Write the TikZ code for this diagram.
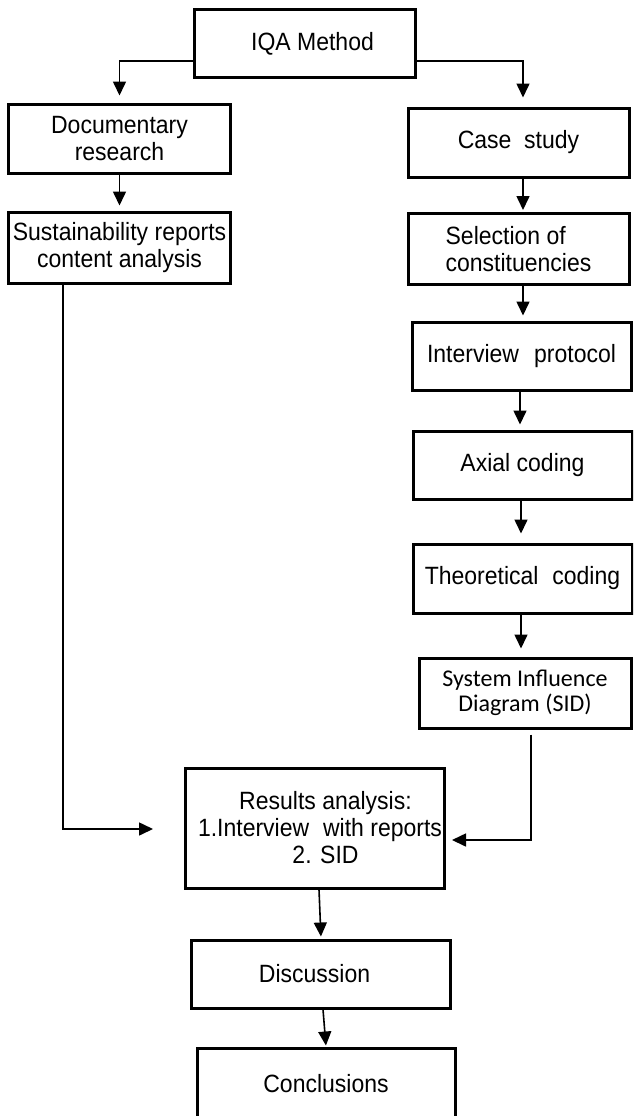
\documentclass[tikz,border=0pt]{standalone}
\usepackage{fontspec}
\setmainfont[FakeStretch=0.92]{Liberation Sans}
\newfontfamily\calib{Carlito}
\usetikzlibrary{arrows.meta,calc}
\newcommand\shiftline[2]{\hspace*{#1}#2\hspace*{-#1}}
\begin{document}
\begin{tikzpicture}[x=1pt,y=-1pt,
  box/.style={draw, line width=3pt, inner sep=0pt, align=center,
    font=\fontsize{25}{27}\selectfont},
  arr/.style={line width=1.6pt, -{Triangle[length=14pt,width=13pt]}}]
\useasboundingbox (0,0) rectangle (633,1116);
\clip (0,0) rectangle (633,1116);
% boxes
\node[box, minimum width=221pt, minimum height=67pt] (iqa) at (304.5,43.5) {\shiftline{8pt}{IQA Method}};
\node[box, minimum width=222pt, minimum height=69pt] (doc) at (119.5,138.5) {Documentary\\research};
\node[box, minimum width=222pt, minimum height=71pt] (sus) at (119.5,247.5) {Sustainability reports\\content analysis};
\node[box, minimum width=221pt, minimum height=69pt] (case) at (518.5,142.5) {Case\hspace{0.25em} study};
\node[box, minimum width=221pt, minimum height=71pt, align=left] (sel) at (518.5,249) {Selection of\\constituencies};
\node[box, minimum width=219pt, minimum height=68pt] (int) at (521.5,356) {Interview\hspace{0.35em} protocol};
\node[box, minimum width=219pt, minimum height=68pt] (axi) at (522.5,465) {Axial coding};
\node[box, minimum width=219pt, minimum height=69pt] (theo) at (522.5,578.5) {Theoretical\hspace{0.3em} coding};
\node[box, minimum width=212pt, minimum height=70pt, font=\calib\fontsize{24}{25}\selectfont] (sid) at (525,693) {System Influence\\Diagram (SID)};
\node[box, minimum width=259pt, minimum height=120pt] (res) at (314.5,828) {\shiftline{11pt}{Results analysis:}\\\shiftline{11pt}{1.Interview\hspace{0.3em} with reports}\\\shiftline{11pt}{2. SID}};
\node[box, minimum width=259pt, minimum height=68pt] (disc) at (320.5,974) {\shiftline{-6pt}{Discussion}};
\node[box, minimum width=258pt, minimum height=72pt] (conc) at (326,1084) {Conclusions};
% free ends
\coordinate (susin) at (153,829);
\coordinate (sidin) at (452,840);
% connectors
\draw[arr, shorten >=7pt] ([yshift=-17.5pt]iqa.west) -| (doc.north);
\draw[arr, shorten >=9pt] ([yshift=-17.5pt]iqa.east) -| ([xshift=4.5pt]case.north);
\draw[arr, shorten >=5pt] (doc.south) -- (sus.north);
\draw[arr, shorten >=2pt] ([xshift=4.5pt]case.south) -- ([xshift=4.5pt]sel.north);
\draw[arr, shorten >=5pt] ([xshift=4.5pt]sel.south) -- ([xshift=4.5pt]sel.south |- int.north);
\draw[arr, shorten >=5pt] ([xshift=-1.5pt]int.south) -- ([xshift=-1.5pt]int.south |- axi.north);
\draw[arr, shorten >=9pt] ([xshift=-1.5pt]axi.south) -- ([xshift=-1.5pt]axi.south |- theo.north);
\draw[arr, shorten >=8pt] ([xshift=-1.5pt]theo.south) -- ([xshift=-1.5pt]theo.south |- sid.north);
\draw[arr] ([xshift=-56.5pt]sus.south) |- (susin);
\draw[arr] ([xshift=6pt,yshift=-5pt]sid.south) |- (sidin);
\draw[arr, shorten >=2pt] ([xshift=4.5pt]res.south) -- ([xshift=0.5pt]disc.north);
\draw[arr, shorten >=1pt] ([xshift=2.5pt]disc.south) -- (conc.north);
\end{tikzpicture}
\end{document}
